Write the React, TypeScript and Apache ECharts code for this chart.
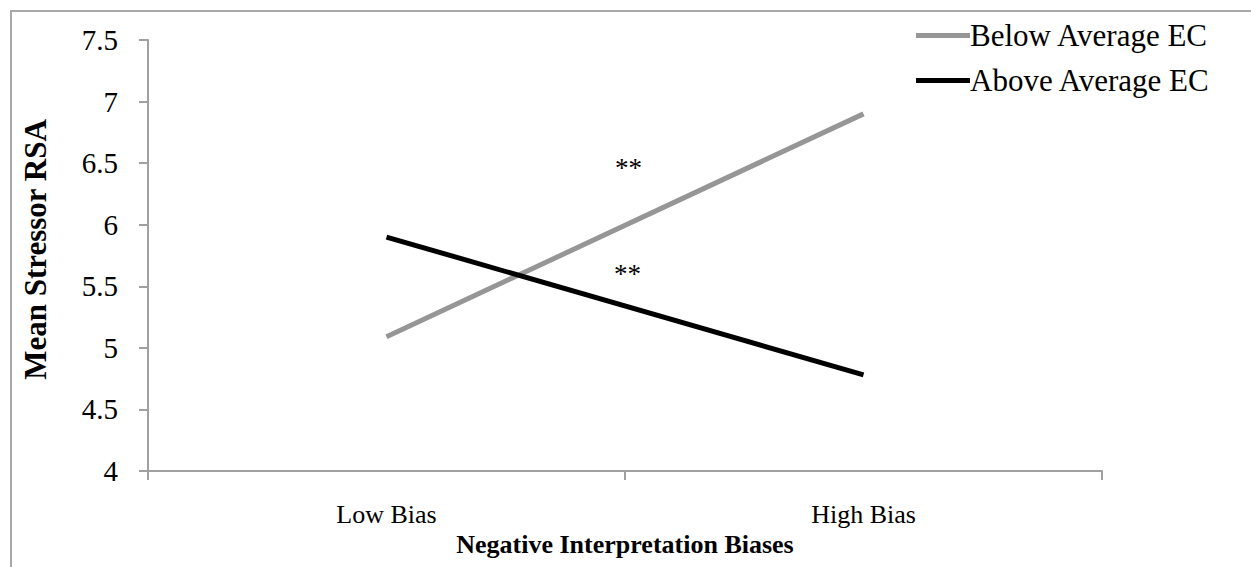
import React, { useEffect, useRef } from "react";
import * as echarts from "echarts";

const categories = ["Low Bias", "High Bias"];
const belowAverage = [5.09, 6.9];
const aboveAverage = [5.9, 4.78];
const seriesNames = ["Below Average EC", "Above Average EC"];
const yTitle = "Mean Stressor RSA";
const xTitle = "Negative Interpretation Biases";
const annotations = ["**", "**"];

const FONT = "'Liberation Serif', 'Times New Roman', serif";

export default function App() {
  const ref = useRef<HTMLDivElement>(null);
  useEffect(() => {
    if (!ref.current) return;
    const chart = echarts.init(ref.current, null, { renderer: "svg" });
    chart.setOption({
      animation: false,
      backgroundColor: "#ffffff",
      textStyle: { fontFamily: FONT },
      grid: {
        left: 148,
        top: 40,
        right: 149,
        bottom: 96,
        containLabel: false,
        outerBoundsMode: "none",
      },
      legend: {
        orient: "vertical",
        left: 911,
        top: 15,
        itemWidth: 54,
        itemHeight: 5,
        itemGap: 14,
        icon: "rect",
        textStyle: { fontFamily: FONT, fontSize: 31, color: "#000", padding: [0, 0, 0, -5] },
        data: seriesNames,
      },
      xAxis: {
        type: "category",
        data: categories,
        boundaryGap: true,
        name: xTitle,
        nameLocation: "middle",
        nameGap: 59,
        nameTextStyle: { fontFamily: FONT, fontSize: 26, fontWeight: "bold", color: "#000" },
        axisLine: { lineStyle: { color: "#a0a0a0", width: 2 } },
        axisTick: { show: true, length: 9, lineStyle: { color: "#a0a0a0", width: 2 } },
        axisLabel: { fontFamily: FONT, fontSize: 26, color: "#000", margin: 30 },
        splitLine: { show: false },
      },
      yAxis: {
        type: "value",
        min: 4,
        max: 7.5,
        interval: 0.5,
        name: yTitle,
        nameLocation: "middle",
        nameGap: 97,
        nameRotate: 90,
        nameTextStyle: {
          fontFamily: FONT,
          fontSize: 31,
          fontWeight: "bold",
          color: "#000",
          padding: [0, 0, 0, 12],
        },
        axisLine: { show: true, lineStyle: { color: "#a0a0a0", width: 2 } },
        axisTick: { show: true, length: 9, lineStyle: { color: "#a0a0a0", width: 2 } },
        axisLabel: { fontFamily: FONT, fontSize: 29, color: "#000", margin: 30 },
        splitLine: { show: false },
      },
      series: [
        {
          name: seriesNames[0],
          type: "line",
          data: belowAverage,
          symbol: "none",
          lineStyle: { color: "#969696", width: 5 },
          itemStyle: { color: "#969696" },
        },
        {
          name: seriesNames[1],
          type: "line",
          data: aboveAverage,
          symbol: "none",
          lineStyle: { color: "#000000", width: 5 },
          itemStyle: { color: "#000000" },
        },
      ],
      graphic: [
        {
          type: "rect",
          shape: { x: 11, y: 11, width: 1300, height: 600 },
          style: { fill: "none", stroke: "#a8a8a8", lineWidth: 2 },
          silent: true,
        },
        {
          type: "text",
          left: 615,
          top: 154,
          style: { text: annotations[0], font: `27px ${FONT}`, fill: "#000" },
        },
        {
          type: "text",
          left: 614,
          top: 260,
          style: { text: annotations[1], font: `27px ${FONT}`, fill: "#000" },
        },
      ],
    });
    return () => chart.dispose();
  }, []);
  return (
    <div
      ref={ref}
      style={{ position: "fixed", left: 0, top: 0, width: 1251, height: 567 }}
    />
  );
}
